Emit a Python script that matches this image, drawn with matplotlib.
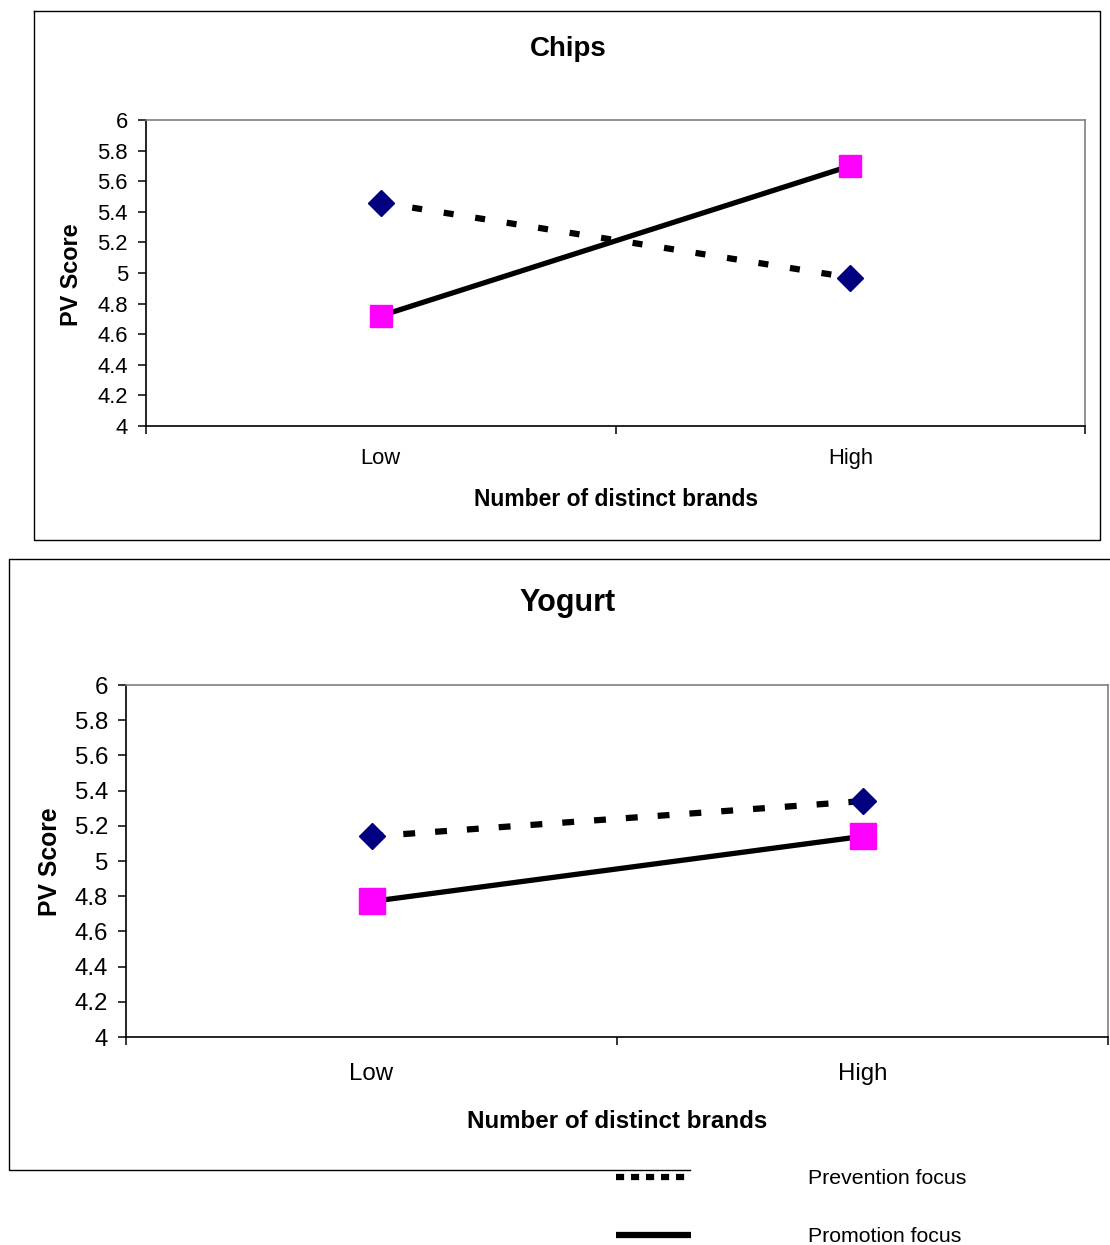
import numpy as np
import matplotlib
matplotlib.use("Agg")
import matplotlib.pyplot as plt
from matplotlib.lines import Line2D
from matplotlib.ticker import FormatStrFormatter, FixedLocator

plt.rcParams['font.family'] = ['Liberation Sans', 'DejaVu Sans']

# data
categories = ['Low', 'High']
chips_prevention = [5.46, 4.97]
chips_promotion = [4.72, 5.70]
yogurt_prevention = [5.14, 5.34]
yogurt_promotion = [4.77, 5.14]
series_names = ['Prevention focus', 'Promotion focus']

W, H = 1110, 1245
fig = plt.figure(figsize=(W / 100, H / 100), dpi=100)


def fx(px):
    return px / W


def fy(py):
    return 1 - py / H


def panel(rect, prev, prom, title, title_xy, title_fs, xlab_xy, ylab_xy,
          lab_fs, tick_fs, ypad, xpad, dsize, ssize, dash):
    l, t, r, b = rect
    ax = fig.add_axes([fx(l), fy(b), fx(r - l), (b - t) / H])
    x = np.arange(len(categories))
    ax.plot(x, prev, color='black', lw=4.5, linestyle=(0, dash),
            dash_capstyle='butt', marker='D', ms=dsize,
            mfc='#000080', mec='#000080', zorder=3)
    ax.plot(x, prom, color='black', lw=3.8, solid_capstyle='butt',
            marker='s', ms=ssize, mfc='#FF00FF', mec='#FF00FF', zorder=4)
    ax.set_xlim(-0.5, len(categories) - 0.5)
    ax.set_ylim(4, 6)
    ax.set_yticks(np.arange(4, 6.01, 0.2))
    ax.yaxis.set_major_formatter(FormatStrFormatter('%g'))
    ax.set_xticks(x)
    ax.set_xticklabels(categories)
    ax.xaxis.set_minor_locator(FixedLocator([-0.5, 0.5, 1.5]))
    ax.tick_params(axis='x', which='major', length=0, pad=xpad,
                   labelsize=tick_fs)
    ax.tick_params(axis='x', which='minor', length=6, width=1.1,
                   direction='out', color='black')
    ax.tick_params(axis='y', length=6, width=1.1, direction='out',
                   pad=ypad, labelsize=tick_fs)
    for s in ['left', 'bottom']:
        ax.spines[s].set_color('black')
        ax.spines[s].set_linewidth(1.2)
    for s in ['top', 'right']:
        ax.spines[s].set_color('#808080')
        ax.spines[s].set_linewidth(1.2)
    fig.text(fx(title_xy[0]), fy(title_xy[1]), title, ha='center',
             va='center', fontsize=title_fs, fontweight='bold')
    fig.text(fx(xlab_xy[0]), fy(xlab_xy[1]), 'Number of distinct brands',
             ha='center', va='center', fontsize=lab_fs, fontweight='bold')
    fig.text(fx(ylab_xy[0]), fy(ylab_xy[1]), 'PV Score', ha='center',
             va='center', fontsize=lab_fs + 0.4, fontweight='bold',
             rotation=90)
    return ax


def fline(xs, ys, **kw):
    fig.add_artist(Line2D([fx(v) for v in xs], [fy(v) for v in ys], **kw))


# top panel frame
fline([34, 1100, 1100, 34, 34], [11, 11, 540, 540, 11], color='black', lw=1)
panel((146, 120, 1085, 426), chips_prevention, chips_promotion, 'Chips',
      (568, 49), 20, (616, 499), (71, 275), 16.5, 15.8, 7, 16,
      13, 16.5, (1.6, 3.5))

# bottom panel frame (partly hidden by the legend / page edge)
fline([1112, 9, 9, 690], [559, 559, 1170, 1170], color='black', lw=1)
panel((126, 685, 1108, 1037), yogurt_prevention, yogurt_promotion, 'Yogurt',
      (568, 603), 22, (617, 1121), (50, 862), 17.4, 17.3, 7, 19,
      13.5, 19, (1.9, 3.2))

# legend
fline([616, 690], [1177, 1177], color='black', lw=4.5,
      linestyle=(0, (1.3, 1.1)), dash_capstyle='butt')
fline([616, 691], [1235, 1235], color='black', lw=4.5,
      solid_capstyle='butt')
fig.text(fx(808), fy(1178), series_names[0], ha='left', va='center',
         fontsize=15.3)
fig.text(fx(808), fy(1236), series_names[1], ha='left', va='center',
         fontsize=15.3)

fig.savefig('out.png', dpi=100)
